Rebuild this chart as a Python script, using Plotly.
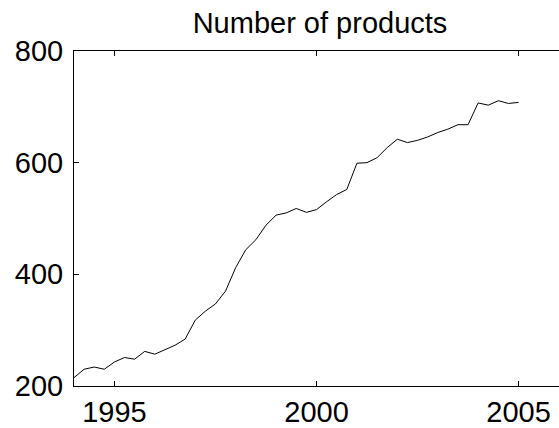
import plotly.graph_objects as go

# Quarterly observations, first quarter of 1994 through first quarter of 2005
years = [1994 + q / 4 for q in range(45)]
products = [
    215, 230, 234, 230, 243, 251, 248, 262, 257, 265,
    273, 284, 318, 334, 347, 370, 412, 444, 462, 488,
    506, 510, 518, 511, 516, 530, 543, 552, 599, 600,
    609, 627, 642, 636, 640, 646, 654, 660, 668, 668,
    707, 703, 711, 706, 708,
]

x_ticks = [1995, 2000, 2005]
y_ticks = [200, 400, 600, 800]
x_range = [1994, 2006]
y_range = [200, 800]

font = dict(family="Liberation Sans, Arial, sans-serif", size=29, color="black")

fig = go.Figure()
fig.add_trace(go.Scatter(
    x=years, y=products, mode="lines",
    line=dict(color="black", width=1),
    hoverinfo="skip", showlegend=False,
))

fig.update_layout(
    width=559, height=428,
    autosize=False,
    margin=dict(l=74, r=0, t=51, b=40),
    paper_bgcolor="white", plot_bgcolor="white",
    font=font,
    title=dict(
        text="Number of products",
        x=320 / 559, xanchor="center", xref="container",
        y=1 - 23 / 428, yanchor="middle", yref="container",
        font=font,
    ),
    xaxis=dict(
        range=x_range, tickvals=x_ticks, ticktext=[str(v) for v in x_ticks],
        ticks="inside", ticklen=5, tickwidth=1, tickcolor="black",
        showline=True, linecolor="black", linewidth=1, mirror="ticks",
        showgrid=False, zeroline=False, tickfont=font,
    ),
    yaxis=dict(
        range=y_range, tickvals=y_ticks, ticktext=[str(v) for v in y_ticks],
        ticks="inside", ticklen=5, tickwidth=1, tickcolor="black",
        showline=True, linecolor="black", linewidth=1, mirror=False,
        showgrid=False, zeroline=False, tickfont=font, ticklabelstandoff=4,
    ),
    # right-hand tick marks only; the frame's right edge lies just outside the view
    yaxis2=dict(
        range=y_range, tickvals=y_ticks, overlaying="y", side="right",
        ticks="inside", ticklen=5, tickwidth=1, tickcolor="black",
        showline=False, showgrid=False, zeroline=False, showticklabels=False,
    ),
)

fig.write_html("out.html")
